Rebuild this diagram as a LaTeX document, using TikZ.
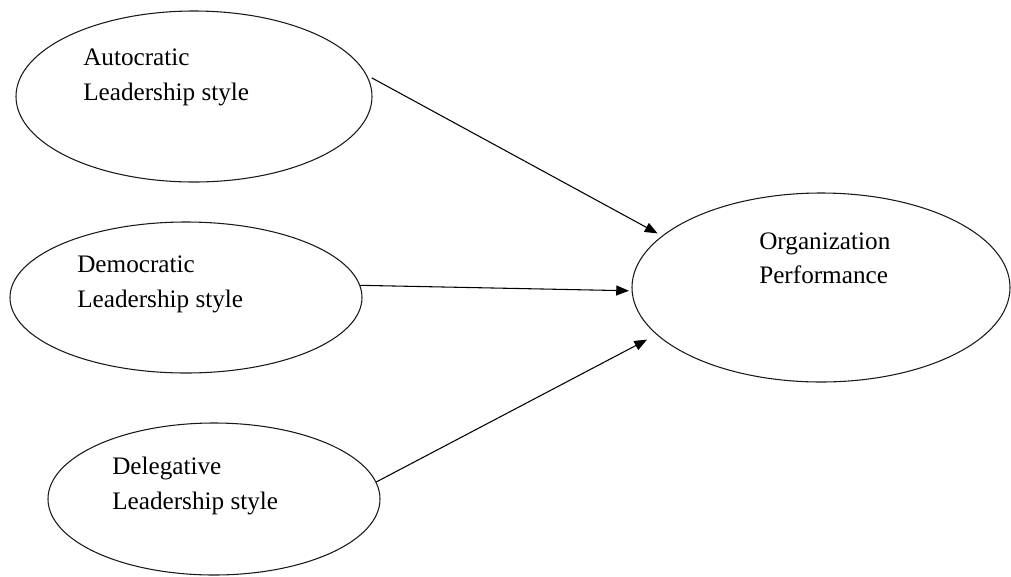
\documentclass[tikz,border=0pt]{standalone}
\usepackage{fontspec}
\setmainfont{Liberation Serif}
\usetikzlibrary{shapes.geometric,arrows.meta}
\begin{document}
\begin{tikzpicture}[x=0.75pt,y=-0.75pt,
  oval/.style={draw=black!90,ellipse,line width=0.8pt,inner sep=0pt},
  lbl/.style={anchor=base west,inner sep=0pt,font=\fontsize{18.9}{26}\selectfont},
  conn/.style={draw=black,line width=0.8pt,-{Triangle[length=9.5pt,width=7.5pt]}}]
\useasboundingbox (0,0) rectangle (1011,576);
\node[oval,minimum width=267pt,minimum height=128.25pt] (e1) at (194,96.5) {};
\node[oval,minimum width=264pt,minimum height=113.25pt] (e2) at (186,297.5) {};
\node[oval,minimum width=249pt,minimum height=114pt] (e3) at (214,499) {};
\node[oval,minimum width=283.5pt,minimum height=141.75pt] (e4) at (821,287.5) {};
\node[lbl] (t1a) at (83,65.5) {Autocratic};
\node[lbl] (t1b) at (83,100) {Leadership style};
\node[lbl] (t2a) at (77,272.5) {Democratic};
\node[lbl] (t2b) at (77,307) {Leadership style};
\node[lbl] (t3a) at (112,474) {Delegative};
\node[lbl] (t3b) at (112,509) {Leadership style};
\node[lbl] (t4a) at (759,249) {Organization};
\node[lbl] (t4b) at (759,283) {Performance};
\draw[conn,shorten <=4pt,shorten >=3.75pt] (e1.7) -- (e4.162);
\draw[conn,shorten >=2pt] (e2.4.7) -- (e4.181);
\draw[conn,shorten >=8pt] (e3.6) -- (e4.196.2);
\end{tikzpicture}
\end{document}
